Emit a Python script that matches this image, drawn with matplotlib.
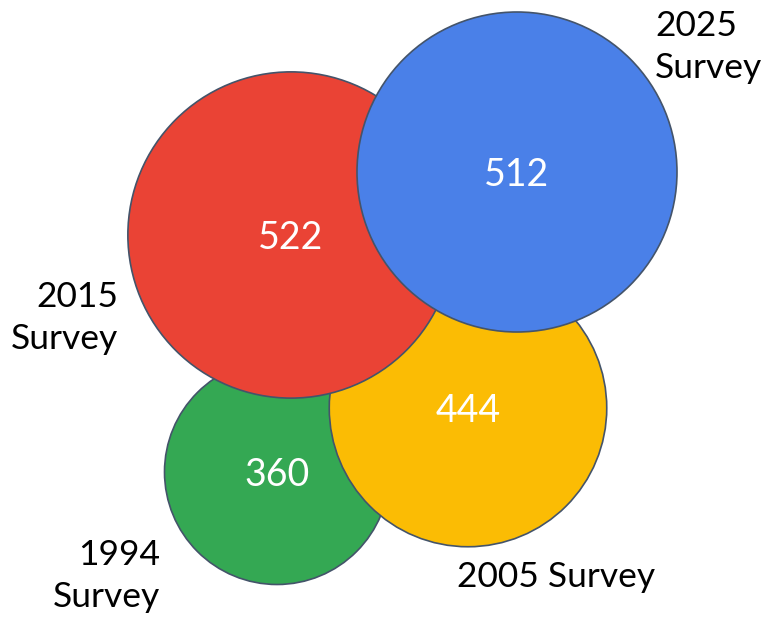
import matplotlib.pyplot as plt
from matplotlib.patches import Circle

surveys = ['1994 Survey', '2005 Survey', '2015 Survey', '2025 Survey']
values = [360, 444, 522, 512]
colors = ['#34A853', '#FBBC04', '#EA4335', '#4A80E8']

# layout in pixel units (y down)
centers = [(277, 472), (468, 408), (291, 235), (517, 172)]
scale = 0.3125  # radius per unit of value

plt.rcParams['font.family'] = ['Lato', 'DejaVu Sans']

fig = plt.figure(figsize=(7.68, 6.19), dpi=100)
ax = fig.add_axes([0, 0, 1, 1])
ax.set_xlim(0, 768)
ax.set_ylim(619, 0)
ax.set_aspect('equal')
ax.axis('off')

for (cx, cy), v, c in zip(centers, values, colors):
    ax.add_patch(Circle((cx, cy), v * scale, facecolor=c, edgecolor='#44546A', linewidth=1.2))
    ax.text(cx, cy + 3, str(v), color='white', fontsize=27, ha='center', va='center')

ax.text(160, 576, '1994\nSurvey', fontsize=25.5, ha='right', va='center', linespacing=1.35)
ax.text(556, 577, '2005 Survey', fontsize=25.5, ha='center', va='center')
ax.text(118, 318, '2015\nSurvey', fontsize=25.5, ha='right', va='center', linespacing=1.35)
ax.text(655, 47, '2025\nSurvey', fontsize=25.5, ha='left', va='center', linespacing=1.35)

fig.savefig('out.png', dpi=100)
